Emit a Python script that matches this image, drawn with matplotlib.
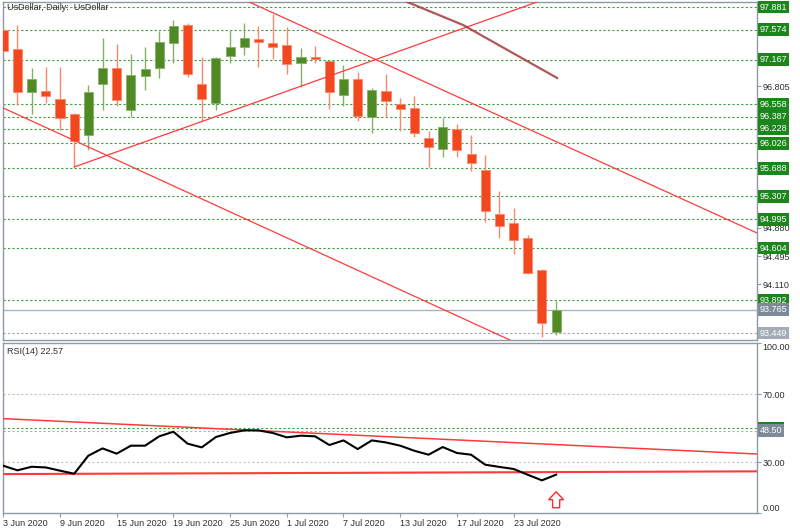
import numpy as np
import matplotlib.pyplot as plt
import matplotlib.transforms as mtransforms
from matplotlib.patches import FancyArrow

plt.rcParams['font.family'] = ['Liberation Sans', 'DejaVu Sans']

# daily candles, 3 Jun 2020 .. 28 Jul 2020
opens = [97.568, 97.310, 96.726, 96.739, 96.630, 96.426, 96.141, 96.834, 97.052, 96.481,
         96.943, 97.052, 97.392, 97.636, 96.834, 96.576, 97.215, 97.337, 97.446, 97.392,
         97.364, 97.120, 97.201, 97.147, 96.685, 96.902, 96.386, 96.739, 96.562, 96.508,
         96.100, 95.951, 96.222, 95.883, 95.665, 95.067, 94.945, 94.741, 94.306, 93.463]
highs = [97.590, 97.636, 97.052, 97.065, 97.065, 96.440, 96.821, 97.460, 97.378, 97.242,
         97.337, 97.555, 97.704, 97.664, 97.201, 97.201, 97.568, 97.664, 97.623, 97.786,
         97.609, 97.324, 97.351, 97.160, 97.093, 96.997, 96.780, 96.970, 96.644, 96.671,
         96.195, 96.372, 96.290, 96.141, 95.869, 95.380, 95.149, 94.781, 94.319, 93.885]
lows = [97.270, 96.549, 96.426, 96.576, 96.209, 95.706, 95.937, 96.481, 96.535, 96.386,
        96.753, 96.916, 97.120, 96.929, 96.331, 96.481, 97.120, 97.228, 97.065, 97.174,
        96.970, 96.793, 97.120, 96.495, 96.535, 96.331, 96.168, 96.386, 96.195, 96.114,
        95.706, 95.842, 95.842, 95.652, 94.958, 94.741, 94.523, 94.250, 93.395, 93.422]
closes = [97.283, 96.726, 96.902, 96.671, 96.372, 96.059, 96.726, 97.052, 96.617, 96.957,
          97.038, 97.405, 97.623, 96.970, 96.630, 97.188, 97.337, 97.460, 97.405, 97.337,
          97.106, 97.201, 97.174, 96.726, 96.902, 96.399, 96.753, 96.603, 96.494, 96.168,
          95.978, 96.250, 95.937, 95.760, 95.108, 94.904, 94.713, 94.265, 93.585, 93.765]

rsi = [27.8, 25.1, 27.2, 26.8, 24.9, 23.1, 33.7, 38.0, 34.9, 39.6,
       39.6, 45.1, 47.8, 40.8, 38.6, 44.7, 47.1, 48.6, 48.6, 47.1,
       44.5, 45.5, 45.1, 40.0, 42.7, 37.6, 42.7, 41.5, 39.6, 36.6,
       34.3, 38.8, 35.3, 34.3, 28.4, 27.1, 25.9, 22.5, 19.2, 22.57]

tick_bars = [0, 4, 8, 12, 16, 20, 24, 28, 32, 36]
tick_dates = ['3 Jun 2020', '9 Jun 2020', '15 Jun 2020', '19 Jun 2020', '25 Jun 2020',
              '1 Jul 2020', '7 Jul 2020', '13 Jul 2020', '17 Jul 2020', '23 Jul 2020']

levels = [97.881, 97.574, 97.167, 96.558, 96.387, 96.228, 96.026, 95.688,
          95.307, 94.995, 94.604, 93.892]
price_ticks = [97.575, 97.190, 96.805, 96.420, 96.035, 95.650, 95.265,
               94.880, 94.495, 94.110, 93.725]
# tick labels left uncovered by the level boxes
shown_ticks = [96.805, 94.880, 94.495, 94.110]
bid_price = 93.765
ask_price = 93.449

# trend lines as (bar, price) anchors
trend_a = ([0, 35.9], [96.508, 93.340])
trend_b = ([5.0, 37.66], [95.706, 97.949])
trend_c = ([17.35, 53.17], [97.949, 94.809])
curve_d = ([28.5, 32.44, 39.07], [97.949, 97.636, 96.916])
rsi_upper = ([0, 53.17], [55.5, 34.7])
rsi_lower = ([0, 53.17], [22.9, 24.5])
rsi_levels = [70, 30]

RED = '#f2471f'
RED_E = '#f7896c'
GREEN = '#4f8a24'
GREEN_E = '#86b067'
LVL = '#3d9b3d'
BOX = '#1c861c'
SPINE = '#8e9aa4'
TXT = '#2e2e2e'
FS = 6.5

W, H = 800, 532
fig = plt.figure(figsize=(8, 5.32), dpi=100)


def px_axes(x0, y0, x1, y1):
    return fig.add_axes([x0 / W, 1 - y1 / H, (x1 - x0) / W, (y1 - y0) / H])


ax = px_axes(3, 2, 757, 340)
ax2 = px_axes(3, 343, 757, 513)
xlim = (-0.02, 53.17)

# candles
o = np.array(opens)
c = np.array(closes)
x = np.arange(len(o))
up = c >= o
body_col = [GREEN if u else RED for u in up]
edge_col = [GREEN_E if u else RED_E for u in up]
ax.vlines(x, lows, highs, colors=edge_col, lw=1, zorder=3)
ax.bar(x, np.maximum(np.abs(c - o), 0.012), bottom=np.minimum(o, c), width=0.64,
       color=body_col, edgecolor=edge_col, lw=0.6, zorder=4)

for lv in levels:
    ax.axhline(lv, color=LVL, lw=0.8, ls=(0, (2, 2)), zorder=2)
ax.axhline(bid_price, color='#aab4be', lw=1, zorder=2)
ax.axhline(ask_price, color='#9aa4ad', lw=0.8, ls=(0, (2, 2)), zorder=2)

ax.plot(*trend_a, color='#ff3b3b', lw=0.9, zorder=5)
ax.plot(*trend_b, color='#ff3b3b', lw=0.9, zorder=5)
ax.plot(*trend_c, color='#ff3b3b', lw=0.9, zorder=5)
ax.plot(*curve_d, color='#a53a3a', lw=1.6, alpha=0.85, zorder=5)

ax.set_xlim(*xlim)
ax.set_ylim(93.354, 97.949)
ax.set_xticks([])
ax.yaxis.tick_right()
ax.set_yticks(price_ticks)
ax.set_yticklabels([f'{v:.3f}' if v in shown_ticks else '' for v in price_ticks])
ax.tick_params(axis='y', length=3, width=0.8, pad=1, labelsize=FS,
               color=SPINE, labelcolor=TXT)

box = dict(boxstyle='square,pad=0.2', ec='none')
trans = mtransforms.blended_transform_factory(ax.transAxes, ax.transData)
for lv in levels:
    ax.text(1.0035, lv, f'{lv:.3f}', transform=trans, ha='left', va='center',
            fontsize=FS, color='white', zorder=10, clip_on=False, bbox=dict(box, fc=BOX))
ax.text(1.0035, bid_price, f'{bid_price:.3f}', transform=trans, ha='left', va='center',
        fontsize=FS, color='white', zorder=11, clip_on=False, bbox=dict(box, fc='#7d8b99'))
ax.text(1.0035, ask_price, f'{ask_price:.3f}', transform=trans, ha='left', va='center',
        fontsize=FS, color='white', zorder=11, clip_on=False, bbox=dict(box, fc='#a3acb5'))

# RSI panel
ax2.plot(x, rsi, color='black', lw=1.5, zorder=5)
for lv in rsi_levels:
    ax2.axhline(lv, color='#c4c4c4', lw=0.8, ls=(0, (2, 2)), zorder=2)
ax2.axhline(50, color=LVL, lw=0.8, ls=(0, (2, 2)), zorder=2)
ax2.axhline(48.5, color='#b0b0b0', lw=0.8, ls=(0, (2, 2)), zorder=2)
ax2.plot(*rsi_upper, color='#ff3b3b', lw=1.1, zorder=4)
ax2.plot(*rsi_lower, color='#ff3b3b', lw=1.5, zorder=4)
ax2.add_patch(FancyArrow(39, 3.1, 0, 9.4, width=0.5, head_width=1.06, head_length=4.7,
                         length_includes_head=True, fc='white', ec='#ff2a2a', lw=1, zorder=6))

ax2.set_xlim(*xlim)
ax2.set_ylim(0, 100)
ax2.yaxis.tick_right()
ax2.set_yticks([0, 30, 70, 100])
ax2.set_yticklabels(['0.00', '30.00', '70.00', '100.00'])
ax2.tick_params(axis='y', length=3, width=0.8, pad=1, labelsize=FS,
                color=SPINE, labelcolor=TXT)
ylabels = ax2.get_yticklabels()
ylabels[0].set_va('bottom')
ylabels[-1].set_va('top')
ax2.set_xticks(tick_bars)
ax2.set_xticklabels(tick_dates)
ax2.tick_params(axis='x', length=3, width=0.8, pad=1, labelsize=FS,
                color=SPINE, labelcolor=TXT)
for lbl in ax2.get_xticklabels():
    lbl.set_ha('left')

trans2 = mtransforms.blended_transform_factory(ax2.transAxes, ax2.transData)
ax2.text(1.0035, 50, '50.00', transform=trans2, ha='left', va='center',
         fontsize=FS, color='white', zorder=10, clip_on=False, bbox=dict(box, fc=BOX))
ax2.text(1.0035, 48.5, '48.50', transform=trans2, ha='left', va='center',
         fontsize=FS, color='white', zorder=11, clip_on=False, bbox=dict(box, fc='#7d8b99'))

for a in (ax, ax2):
    for s in a.spines.values():
        s.set_color(SPINE)
        s.set_linewidth(1)

fig.text(7 / W, 1 - 7 / H, 'UsDollar, Daily:  UsDollar', ha='left', va='center',
         fontsize=FS, color=TXT)
fig.text(7 / W, 1 - 352 / H, 'RSI(14) 22.57', ha='left', va='center',
         fontsize=FS, color=TXT)

fig.savefig('out.png', dpi=100)
